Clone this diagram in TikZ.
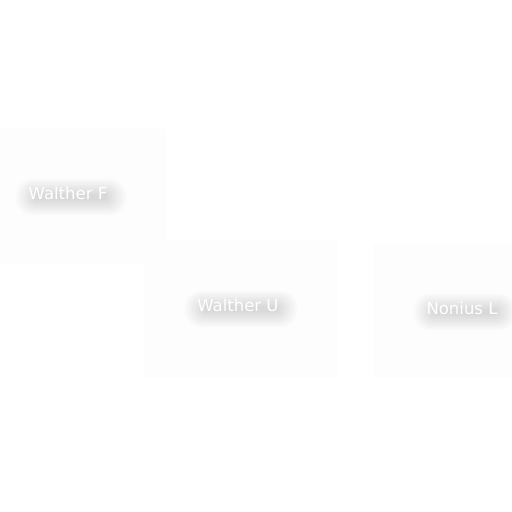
\documentclass[tikz,border=0pt]{standalone}
\usepackage{fontspec}
\setmainfont{DejaVu Sans}
\tikzset{
  panel/.style={fill=black!0.8, draw=none},
  lbl/.style={text=white, font=\fontsize{16.5}{19}\selectfont, inner sep=0pt},
  blob/.style={fill=black, opacity=0.017, draw=none}
}
\newcommand{\shadowlabel}[4]{%
  \foreach \k in {0,...,8}{
    \path[blob, rounded corners={(2+1.9*\k)*1pt}]
      ([xshift={(3-#4/2+4-2.4*\k)*1pt}, yshift={(-4+3+1.9*\k)*1pt}]#1)
      rectangle ([xshift={(3+#4/2-4+2.4*\k)*1pt}, yshift={(-4-3-1.9*\k)*1pt}]#1);
  }
  \node[lbl] (#2) at (#1) {#3};
}
\begin{document}
\begin{tikzpicture}[x=1pt,y=-1pt]
\useasboundingbox (0,0) rectangle (512,512);
\fill[white] (0,0) rectangle (512,512);
\path[panel] (0,129) rectangle (166,265);
\path[panel] (144,240) rectangle (338,378);
\path[panel] (373,244) rectangle (512,378);
\coordinate (pf) at (68,193);
\coordinate (pu) at (238,305);
\coordinate (pn) at (462,308);
\shadowlabel{pf}{wf}{Walther F}{80}
\shadowlabel{pu}{wu}{Walther U}{82}
\shadowlabel{pn}{nl}{Nonius L}{72}
\end{tikzpicture}
\end{document}
